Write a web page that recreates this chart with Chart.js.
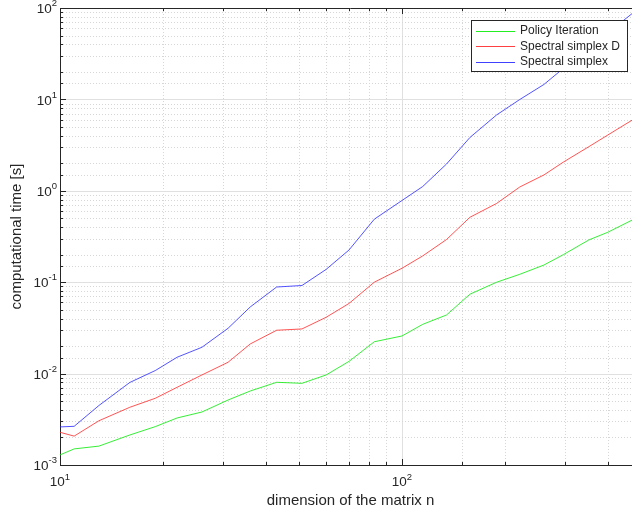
<!DOCTYPE html>
<html>
<head>
<meta charset="utf-8">
<script src="https://cdn.jsdelivr.net/npm/chart.js@4.4.1/dist/chart.umd.min.js"></script>
<style>
  html, body { margin: 0; padding: 0; background: #fff; }
  #wrap { width: 632px; height: 515px; overflow: hidden; }
</style>
</head>
<body>
<div id="wrap"><canvas id="chart" width="641" height="515"></canvas></div>
<script>
// matrix dimension n (x axis)
const dims = [10, 11, 13, 16, 19, 22, 26, 31, 36, 43, 51, 60, 70, 83, 100, 115, 135, 158, 189, 221, 260, 297, 352, 400, 472];

// computational time [s]
const policyIteration = [0.00129, 0.0015, 0.00161, 0.00213, 0.00263, 0.00327, 0.0038, 0.00514, 0.00645, 0.00803, 0.00783, 0.00966, 0.0136, 0.0223, 0.0258, 0.0346, 0.0438, 0.0739, 0.0998, 0.122, 0.154, 0.201, 0.29, 0.352, 0.48];
const spectralSimplexD = [0.00228, 0.00207, 0.00305, 0.00428, 0.00537, 0.00708, 0.00966, 0.0133, 0.0211, 0.0298, 0.0308, 0.0413, 0.0585, 0.100, 0.142, 0.194, 0.293, 0.513, 0.726, 1.10, 1.49, 2.07, 3.04, 4.08, 5.96];
// hidden behind the legend between 297 and 472
const spectralSimplex = [0.00261, 0.00265, 0.00448, 0.0080, 0.0108, 0.0151, 0.0194, 0.0313, 0.0536, 0.0886, 0.092, 0.138, 0.225, 0.489, 0.783, 1.114, 1.965, 3.83, 6.75, 9.97, 14.56, 22, null, null, 87.5];

// decade tick labels, 10^k
const xExponents = [1, 2];
const yExponents = [-3, -2, -1, 0, 1, 2];

const FONT = "'Liberation Sans', Arial, Helvetica, sans-serif";
const AXIS_COLOR = '#262626';
const legendColors = ['#22ee22', '#ff4040', '#4040ff'];

function toPoints(vals) {
    return dims.map((n, i) => ({ x: n, y: vals[i] }));
}

function isDecade(v) {
    const l = Math.log10(v);
    return Math.abs(l - Math.round(l)) < 1e-6;
}

// MATLAB look: dotted minor grid, inward ticks, box, 10^k labels, legend
const matlabAxes = {
    id: 'matlabAxes',
    beforeDatasetsDraw(chart) {
        const { ctx, chartArea: a, scales: { x, y } } = chart;
        ctx.save();
        ctx.lineWidth = 1;
        x.ticks.forEach(t => {
            const px = Math.round(x.getPixelForValue(t.value)) + 0.5;
            if (px <= a.left + 1 || px >= a.right - 1) return;
            const major = isDecade(t.value);
            ctx.strokeStyle = major ? '#e0e0e0' : '#d6d6d6';
            ctx.setLineDash(major ? [] : [1, 2]);
            ctx.beginPath();
            ctx.moveTo(px, a.top);
            ctx.lineTo(px, a.bottom);
            ctx.stroke();
        });
        y.ticks.forEach(t => {
            const py = Math.round(y.getPixelForValue(t.value)) + 0.5;
            if (py <= a.top + 1 || py >= a.bottom - 1) return;
            const major = isDecade(t.value);
            ctx.strokeStyle = major ? '#e0e0e0' : '#d6d6d6';
            ctx.setLineDash(major ? [] : [1, 2]);
            ctx.beginPath();
            ctx.moveTo(a.left, py);
            ctx.lineTo(a.right, py);
            ctx.stroke();
        });
        ctx.restore();
    },
    afterDatasetsDraw(chart) {
        const { ctx, chartArea: a, scales: { x, y } } = chart;
        ctx.save();
        ctx.strokeStyle = AXIS_COLOR;
        ctx.lineWidth = 1;
        ctx.setLineDash([]);

        // top and right box lines
        ctx.beginPath();
        ctx.moveTo(a.left, Math.round(a.top) + 0.5);
        ctx.lineTo(a.right, Math.round(a.top) + 0.5);
        ctx.moveTo(Math.round(a.right) - 0.5, a.top);
        ctx.lineTo(Math.round(a.right) - 0.5, a.bottom);
        ctx.stroke();

        // inward tick marks on all sides
        ctx.beginPath();
        x.ticks.forEach(t => {
            const px = Math.round(x.getPixelForValue(t.value)) + 0.5;
            const len = isDecade(t.value) ? 6 : 3;
            ctx.moveTo(px, a.bottom);
            ctx.lineTo(px, a.bottom - len);
            ctx.moveTo(px, a.top);
            ctx.lineTo(px, a.top + len);
        });
        y.ticks.forEach(t => {
            const py = Math.round(y.getPixelForValue(t.value)) + 0.5;
            const len = isDecade(t.value) ? 6 : 3;
            ctx.moveTo(a.left, py);
            ctx.lineTo(a.left + len, py);
            ctx.moveTo(a.right, py);
            ctx.lineTo(a.right - len, py);
        });
        ctx.stroke();

        // 10^k labels
        ctx.fillStyle = AXIS_COLOR;
        ctx.textBaseline = 'middle';
        ctx.textAlign = 'left';
        const baseFont = '13.5px ' + FONT;
        const expFont = '9.5px ' + FONT;
        const measure = (txt, f) => { ctx.font = f; return ctx.measureText(txt).width; };

        yExponents.forEach(k => {
            const py = y.getPixelForValue(Math.pow(10, k));
            const e = String(k);
            const wb = measure('10', baseFont), we = measure(e, expFont);
            const right = a.left - 3;
            ctx.font = baseFont;
            ctx.fillText('10', right - we - wb, py + 1.5);
            ctx.font = expFont;
            ctx.fillText(e, right - we, py - 4.5);
        });
        xExponents.forEach(k => {
            const px = x.getPixelForValue(Math.pow(10, k));
            const e = String(k);
            const wb = measure('10', baseFont), we = measure(e, expFont);
            const left = px - (wb + we) / 2;
            ctx.font = baseFont;
            ctx.fillText('10', left, a.bottom + 17.5);
            ctx.font = expFont;
            ctx.fillText(e, left + wb, a.bottom + 12);
        });

        // legend box, top right
        const bx = 471.5, by = 20.5, bw = 156, bh = 51;
        ctx.fillStyle = '#ffffff';
        ctx.fillRect(bx, by, bw, bh);
        ctx.strokeStyle = AXIS_COLOR;
        ctx.strokeRect(bx, by, bw, bh);
        ctx.font = '12px ' + FONT;
        chart.data.datasets.forEach((ds, i) => {
            const ly = 31 + i * 15.3;
            ctx.strokeStyle = legendColors[i];
            ctx.beginPath();
            ctx.moveTo(476, Math.round(ly) + 0.5);
            ctx.lineTo(515, Math.round(ly) + 0.5);
            ctx.stroke();
            ctx.fillStyle = AXIS_COLOR;
            ctx.fillText(ds.label, 520, ly);
        });
        ctx.restore();
    }
};

new Chart(document.getElementById('chart'), {
    type: 'line',
    data: {
        datasets: [
            { label: 'Policy Iteration', data: toPoints(policyIteration), borderColor: 'rgba(20, 235, 20, 0.85)' },
            { label: 'Spectral simplex D', data: toPoints(spectralSimplexD), borderColor: 'rgba(255, 40, 40, 0.8)' },
            { label: 'Spectral simplex', data: toPoints(spectralSimplex), borderColor: 'rgba(40, 40, 255, 0.8)' }
        ]
    },
    options: {
        responsive: false,
        animation: false,
        spanGaps: true,
        layout: { padding: { left: 0, top: 8, right: 0, bottom: 0 } },
        elements: {
            point: { radius: 0 },
            line: { borderWidth: 1, tension: 0 }
        },
        plugins: {
            legend: { display: false },
            tooltip: { enabled: false }
        },
        scales: {
            x: {
                type: 'logarithmic',
                min: 10,
                max: 500,
                ticks: { display: false },
                grid: { display: false, drawTicks: false },
                border: { color: AXIS_COLOR, width: 1 },
                title: {
                    display: true,
                    text: 'dimension of the matrix n',
                    color: AXIS_COLOR,
                    font: { family: FONT, size: 15 },
                    padding: { top: 27, bottom: 5 }
                }
            },
            y: {
                type: 'logarithmic',
                min: 0.001,
                max: 100,
                ticks: { display: false },
                grid: { display: false, drawTicks: false },
                border: { color: AXIS_COLOR, width: 1 },
                title: {
                    display: true,
                    text: 'computational time [s]',
                    color: AXIS_COLOR,
                    font: { family: FONT, size: 15 },
                    padding: { top: 8, bottom: 34 }
                }
            }
        }
    },
    plugins: [matlabAxes]
});
</script>
</body>
</html>
